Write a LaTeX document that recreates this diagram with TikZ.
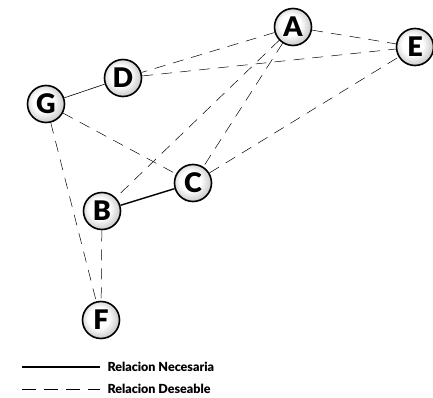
\documentclass[tikz,border=0pt]{standalone}
\usepackage{fontspec}
\setmainfont{Lato}[BoldFont={Lato Black}]
\usetikzlibrary{positioning,calc}
\definecolor{Gris}{HTML}{8A8A8A}
\pgfdeclareradialshading{boule}{\pgfpoint{-5bp}{4bp}}{color(0bp)=(white); color(14bp)=(white); color(42bp)=(Gris); color(50bp)=(Gris)}

\tikzset{
  sommet/.style={circle, draw=black, line width=1.6pt, minimum size=37pt, inner sep=0pt,
    shading=boule, font=\fontsize{27}{27}\selectfont\bfseries},
  necesaria/.style={line width=1.4pt},
  deseable/.style={line width=.5pt, dash pattern=on 11pt off 8pt},
  leyenda/.style={anchor=west, font=\fontsize{12.5}{12.5}\selectfont\bfseries}
}

\begin{document}
\begin{tikzpicture}[x=1pt,y=-1pt]
        \useasboundingbox (0,0) rectangle (433,398);
        \foreach \nom/\x/\y in {A/293/27, E/415/47, D/123/78, G/46/104, C/193/183, B/102/211, F/101/320}{
          \node[sommet] (\nom) at (\x,\y) {\nom};
        }
        % liens deseables
        \foreach \u/\v in {A/D, A/E, D/E, A/B, A/C, G/C, C/E, G/F, B/F}{
          \draw[deseable] (\u) -- (\v);
        }
        \draw[line width=.6pt] (G) -- (D);
        \draw[necesaria] (B) -- (C);
        % leyenda
        \coordinate (n0) at (22,367);
        \coordinate (n1) at (100,367);
        \coordinate (d0) at (22,389);
        \coordinate (d1) at (100,389);
        \draw[necesaria] (n0) -- (n1);
        \draw[deseable, dash pattern=on 14pt off 8pt] (d0) -- (d1);
        \node[leyenda] (ln) at (104,367) {Relacion Necesaria};
        \node[leyenda] (ld) at (104,389) {Relacion Deseable};
      \end{tikzpicture}
\end{document}
